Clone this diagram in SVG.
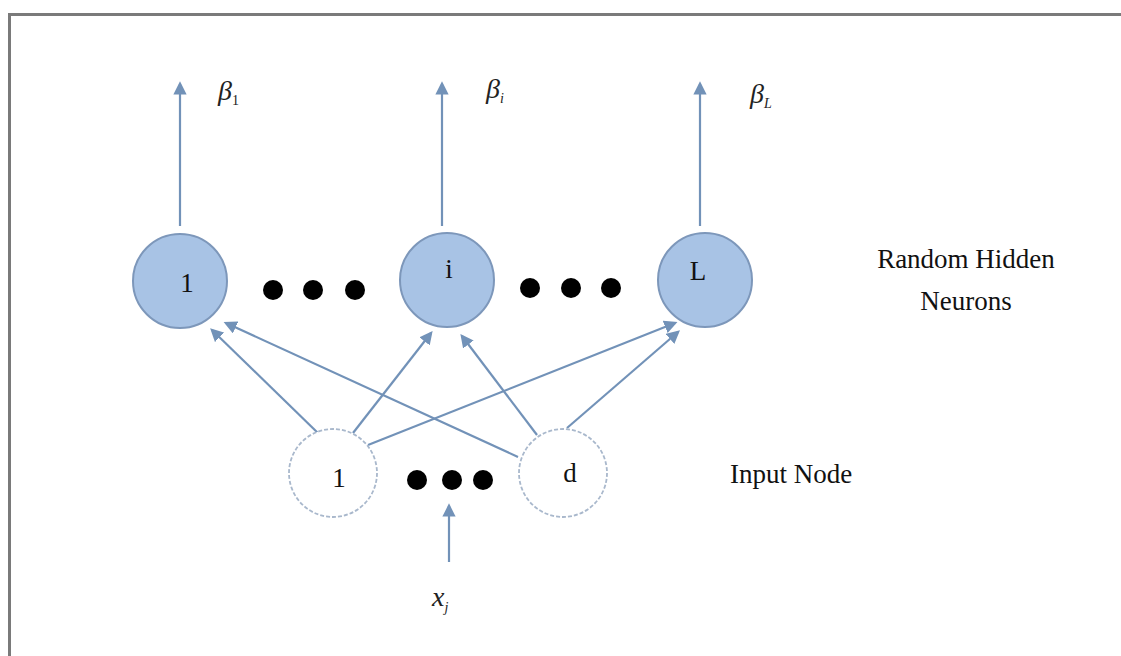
<svg xmlns="http://www.w3.org/2000/svg" width="1121" height="656" viewBox="0 0 1121 656">
<defs>
<style>
.frame{fill:none;stroke:#7a7a7a;stroke-width:3}
.hid{fill:#a8c3e5;stroke:#7d97ba;stroke-width:2}
.inp{fill:#ffffff;stroke:#a9b8cc;stroke-width:1.8;stroke-dasharray:4 2}
.edge{stroke:#7292b8;stroke-width:2.2;fill:none;marker-end:url(#ah)}
.dot{fill:#000}
.lbl{font-family:"Liberation Serif",serif;font-size:27px;fill:#111}
.math{font-family:"Liberation Serif",serif;font-style:italic;fill:#222}
</style>
<marker id="ah" viewBox="0 0 10 10" refX="8" refY="5" markerWidth="6" markerHeight="6" orient="auto" markerUnits="strokeWidth">
<path d="M0,0 L10,5 L0,10 z" fill="#7292b8"/>
</marker>
</defs>
<rect width="1121" height="656" fill="#ffffff"/>
<path class="frame" d="M9.5,656 L9.5,14.5 L1121,14.5"/>

<g id="connectors">
<line class="edge" x1="180" y1="226" x2="180" y2="84"/>
<line class="edge" x1="442" y1="226" x2="442" y2="84"/>
<line class="edge" x1="700" y1="226" x2="700" y2="84"/>
<line class="edge" x1="320" y1="435" x2="212" y2="330"/>
<line class="edge" x1="353" y1="433" x2="431" y2="333"/>
<line class="edge" x1="368" y1="445" x2="675" y2="323"/>
<line class="edge" x1="518" y1="457" x2="226" y2="323"/>
<line class="edge" x1="537" y1="435" x2="462" y2="336"/>
<line class="edge" x1="567" y1="428" x2="678" y2="332"/>
<line class="edge" x1="449" y1="562" x2="449" y2="506"/>
</g>

<g id="hidden-1"><circle class="hid" cx="180" cy="281" r="47"/><text class="lbl" x="187" y="292" text-anchor="middle">1</text></g>
<g id="hidden-i"><circle class="hid" cx="447" cy="280" r="47"/><text class="lbl" x="449" y="278" text-anchor="middle">i</text></g>
<g id="hidden-L"><circle class="hid" cx="705" cy="280" r="47"/><text class="lbl" x="698" y="280" text-anchor="middle">L</text></g>

<g id="hidden-dots-a"><circle class="dot" cx="273" cy="290" r="10"/><circle class="dot" cx="313" cy="290" r="10"/><circle class="dot" cx="355" cy="290" r="10"/></g>
<g id="hidden-dots-b"><circle class="dot" cx="530" cy="288" r="10"/><circle class="dot" cx="571" cy="288" r="10"/><circle class="dot" cx="611" cy="288" r="10"/></g>

<g id="input-1"><circle class="inp" cx="333" cy="473" r="44"/><text class="lbl" x="339" y="487" text-anchor="middle">1</text></g>
<g id="input-d"><circle class="inp" cx="563" cy="473" r="44"/><text class="lbl" x="570" y="482" text-anchor="middle">d</text></g>
<g id="input-dots"><circle class="dot" cx="417" cy="480" r="10"/><circle class="dot" cx="452" cy="480" r="10"/><circle class="dot" cx="483" cy="480" r="10"/></g>

<g id="beta-1"><text class="math" x="218" y="100" font-size="28">β<tspan font-size="14" font-style="normal" dy="5">1</tspan></text></g>
<g id="beta-i"><text class="math" x="486" y="98" font-size="28">β<tspan font-size="14" dy="5">i</tspan></text></g>
<g id="beta-L"><text class="math" x="750" y="103" font-size="28">β<tspan font-size="14" dy="5">L</tspan></text></g>
<g id="x-j"><text class="math" x="432" y="606" font-size="28">x<tspan font-size="14" dy="6">j</tspan></text></g>

<g id="label-hidden"><text class="lbl" x="966" y="268" text-anchor="middle">Random Hidden</text><text class="lbl" x="966" y="310" text-anchor="middle">Neurons</text></g>
<g id="label-input"><text class="lbl" x="730" y="483">Input Node</text></g>
</svg>
